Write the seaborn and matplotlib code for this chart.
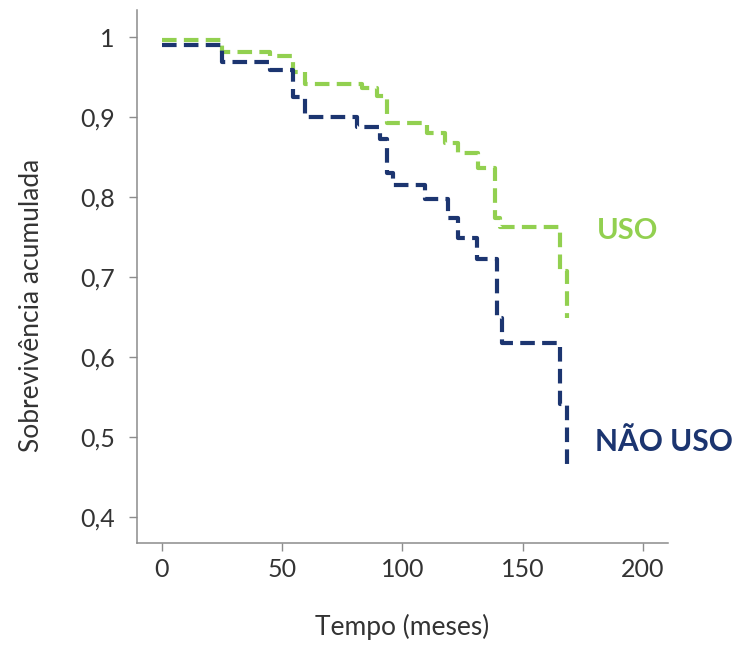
import pandas as pd
import seaborn as sns
import matplotlib.pyplot as plt
from matplotlib.ticker import FuncFormatter

# Curvas de sobrevivência (tempo em meses, sobrevivência acumulada)
tempo_uso = [0, 25, 45, 54.5, 59.5, 83, 89.4, 93.6, 110, 117.7, 123, 131.4, 138.5, 140.5, 165.5, 168.4]
surv_uso = [0.996, 0.982, 0.976, 0.956, 0.942, 0.936, 0.927, 0.893, 0.880, 0.867, 0.855, 0.836, 0.774, 0.763, 0.708, 0.648]

tempo_nao = [0, 25, 45, 54.5, 59.5, 81, 90.6, 93.6, 96, 109.4, 119, 123, 131, 139.3, 141.4, 165.5, 168.4]
surv_nao = [0.990, 0.969, 0.959, 0.925, 0.900, 0.887, 0.873, 0.830, 0.815, 0.798, 0.774, 0.749, 0.723, 0.649, 0.617, 0.541, 0.464]

x_ticks = [0, 50, 100, 150, 200]
y_ticks = [0.4, 0.5, 0.6, 0.7, 0.8, 0.9, 1.0]

verde = "#92D050"
azul = "#1C3570"

sns.set_style("ticks")
plt.rcParams["font.family"] = ["Lato", "DejaVu Sans"]

fig = plt.figure(figsize=(7.34, 6.49), dpi=100)
ax = fig.add_axes([0.1866, 0.1633, 0.7234, 0.8213])

dash = (0, (3.5, 1.75))
sns.lineplot(x=tempo_uso, y=surv_uso, drawstyle="steps-post", color=verde,
             linewidth=3.0, linestyle=dash, dash_capstyle="butt", sort=False,
             estimator=None, ax=ax)
sns.lineplot(x=tempo_nao, y=surv_nao, drawstyle="steps-post", color=azul,
             linewidth=3.0, linestyle=dash, dash_capstyle="butt", sort=False,
             estimator=None, ax=ax)

ax.set_xlim(-10.4, 210.4)
ax.set_ylim(0.367, 1.034)
ax.set_xticks(x_ticks)
ax.set_yticks(y_ticks)
ax.yaxis.set_major_formatter(FuncFormatter(lambda v, p: "1" if abs(v - 1) < 1e-9 else f"{v:.1f}".replace(".", ",")))

sns.despine(ax=ax)
for s in ["left", "bottom"]:
    ax.spines[s].set_color("#8c8c8c")
    ax.spines[s].set_linewidth(1.1)
ax.tick_params(axis="both", colors="#8c8c8c", length=6, width=1.0, labelsize=18, labelcolor="#333333")
ax.tick_params(axis="y", pad=10)
ax.tick_params(axis="x", pad=5)

ax.set_xlabel("Tempo (meses)", fontsize=19, color="#333333", labelpad=23.5)
ax.set_ylabel("Sobrevivência acumulada", fontsize=19, color="#333333")
ax.yaxis.set_label_coords(-0.175, 0.445)

ax.text(180.9, 0.757, "USO", color=verde, fontsize=21, fontweight="bold", ha="left", va="center", clip_on=False)
ax.text(180.0, 0.494, "NÃO USO", color=azul, fontsize=21.5, fontweight="bold", ha="left", va="center", clip_on=False)

fig.savefig("out.png", dpi=100)
